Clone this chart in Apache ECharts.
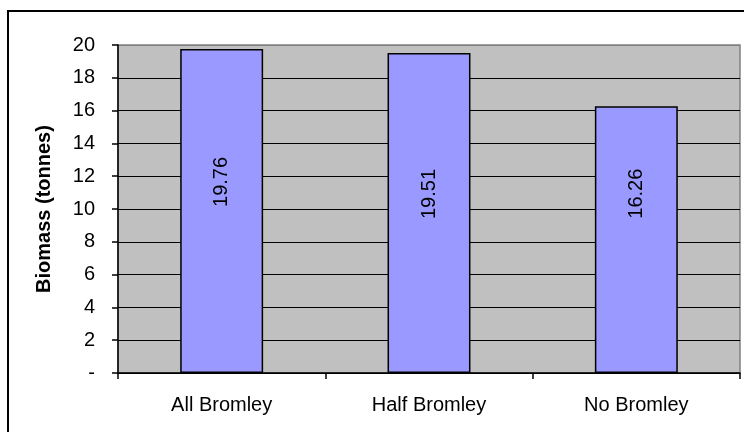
<!DOCTYPE html>
<html lang="en">
<head>
<meta charset="UTF-8">
<title>Biomass</title>
<script src="https://cdn.jsdelivr.net/npm/echarts@6/dist/echarts.min.js"></script>
<style>
  html, body { margin: 0; padding: 0; background: #fff; }
  #chart { width: 744px; height: 432px; }
</style>
</head>
<body>
<div id="chart"></div>
<script>
var categories = ['All Bromley', 'Half Bromley', 'No Bromley'];
var biomass = [19.76, 19.51, 16.26];
var yTicks = [0, 2, 4, 6, 8, 10, 12, 14, 16, 18, 20];
// upward nudge of each value label, px (label is rotated, so it goes in offset x)
var labelShift = [29, 19, 46];

var font = '"Liberation Sans", Arial, sans-serif';
var chart = echarts.init(document.getElementById('chart'));

var gridColors = [];
for (var i = 0; i < yTicks.length - 1; i++) gridColors.push('#000');
gridColors.push('#808080');

var option = {
  animation: false,
  textStyle: { fontFamily: font, color: '#000' },
  graphic: [{
    type: 'rect',
    shape: { x: 8, y: 11, width: 800, height: 500 },
    style: { fill: 'none', stroke: '#000', lineWidth: 2 },
    silent: true
  }],
  grid: {
    left: 118, top: 45, right: 4, bottom: 59,
    show: true, backgroundColor: '#C0C0C0',
    borderColor: '#808080', borderWidth: 1.5
  },
  xAxis: {
    type: 'category',
    data: categories,
    axisLine: { lineStyle: { color: '#000', width: 1.5 } },
    axisTick: { show: true, length: 6, alignWithLabel: false, lineStyle: { color: '#000', width: 1.5 } },
    axisLabel: { fontSize: 20, color: '#000', fontFamily: font, margin: 22 }
  },
  yAxis: {
    type: 'value',
    min: yTicks[0],
    max: yTicks[yTicks.length - 1],
    interval: 2,
    name: 'Biomass (tonnes)',
    nameLocation: 'middle',
    nameGap: 64,
    nameRotate: 90,
    nameTextStyle: { fontSize: 20, fontWeight: 'bold', color: '#000', fontFamily: font },
    axisLine: { show: true, lineStyle: { color: '#000', width: 1.5 } },
    axisTick: { show: true, length: 6, lineStyle: { color: '#000', width: 1.5 } },
    axisLabel: {
      fontSize: 20, color: '#000', fontFamily: font, margin: 23,
      formatter: function (v) { return v === 0 ? '-' : String(v); }
    },
    splitLine: { show: true, lineStyle: { color: gridColors, width: 1 } }
  },
  series: [{
    type: 'bar',
    barCategoryGap: '60%',
    itemStyle: { color: '#9999FF', borderColor: '#000', borderWidth: 1.5 },
    label: {
      show: true,
      position: 'inside',
      rotate: 90,
      fontSize: 20,
      color: '#000',
      fontFamily: font,
      formatter: function (p) { return p.value.toFixed(2); }
    },
    data: biomass.map(function (v, i) {
      return { value: v, label: { offset: [labelShift[i], 0] } };
    })
  }]
};
chart.setOption(option);
</script>
</body>
</html>
